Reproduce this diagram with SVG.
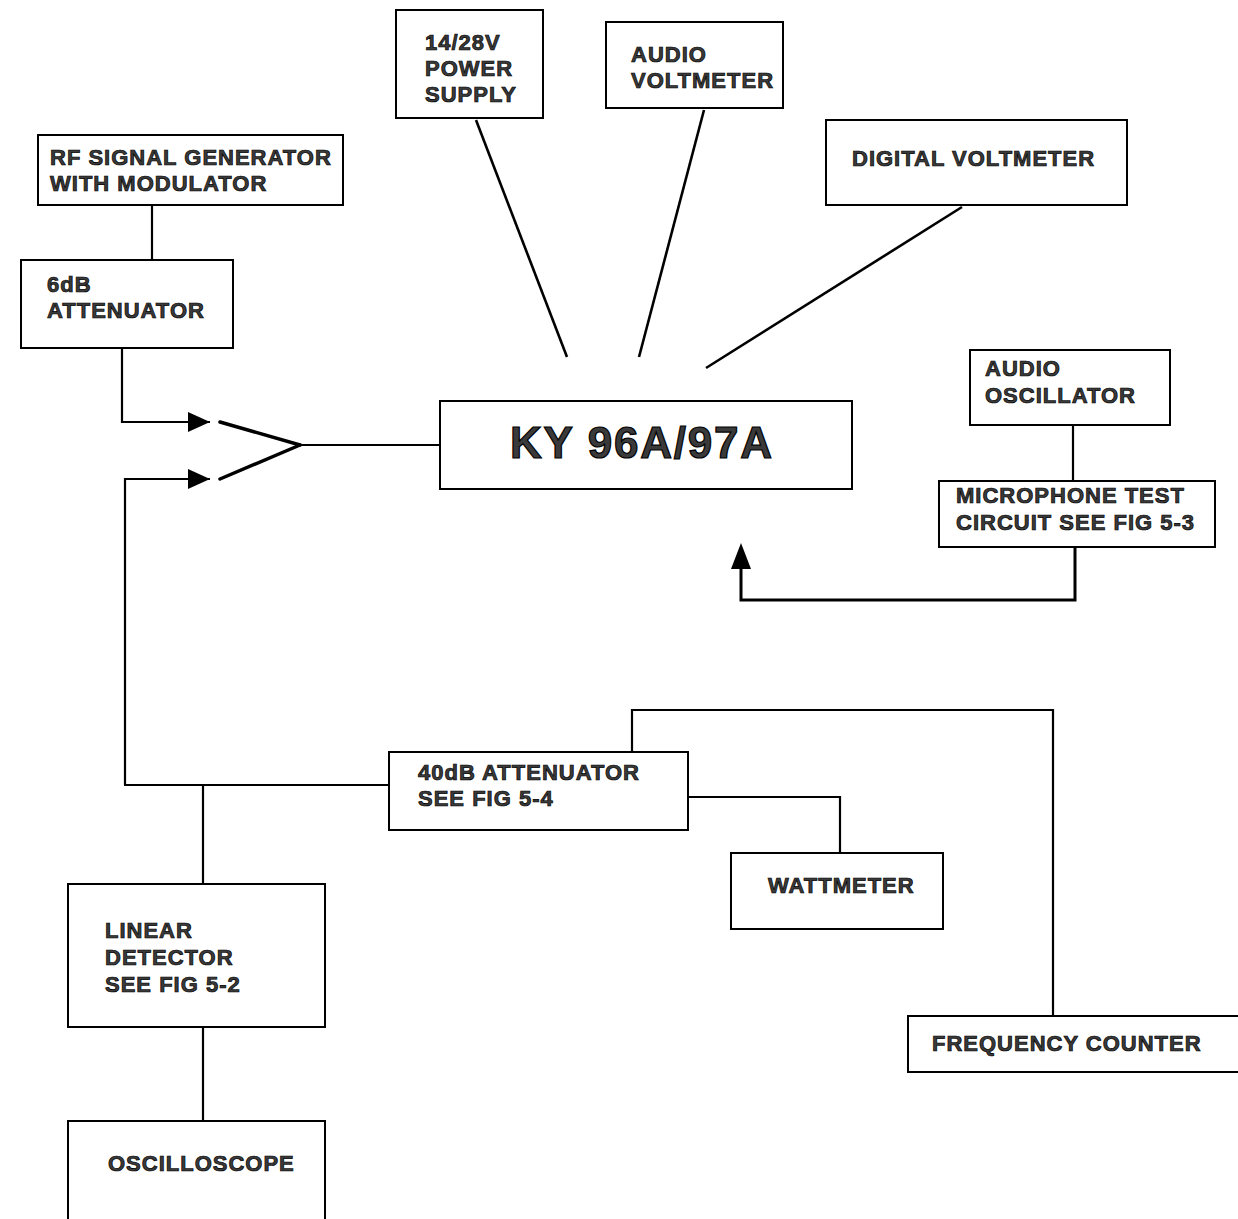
<svg xmlns="http://www.w3.org/2000/svg" width="1238" height="1219" viewBox="0 0 1238 1219">
<style>
.box{fill:#fff;stroke:#000;stroke-width:2}
.t{font-family:"Liberation Sans",Arial,sans-serif;font-weight:bold;font-size:22px;letter-spacing:1px;fill:#3a3a3a;stroke:#000;stroke-width:0.7}
.big{font-size:44px;letter-spacing:0;stroke-width:1.2}
.c{fill:none;stroke:#000;stroke-width:2.2}
.sw{fill:none;stroke:#000;stroke-width:3.5;stroke-linecap:round}
</style>
<defs>
<marker id="ah" markerWidth="24" markerHeight="20" refX="22" refY="10" orient="auto" markerUnits="userSpaceOnUse">
<path d="M0,0 L22,10 L0,20 Z" fill="#000"/>
</marker>
</defs>
<rect width="1238" height="1219" fill="#fff"/>
<g id="connectors">
<line class="c" x1="152" y1="205" x2="152" y2="260"/>
<path class="c" d="M122,348 V422 H210" marker-end="url(#ah)"/>
<path class="c" d="M125,785 V479 H210" marker-end="url(#ah)"/>
<line class="sw" x1="220" y1="422" x2="300" y2="445"/>
<line class="sw" x1="220" y1="479" x2="300" y2="445"/>
<line class="c" x1="300" y1="445" x2="440" y2="445"/>
<line class="c" x1="476" y1="120" x2="567" y2="357" style="stroke-width:2.6"/>
<line class="c" x1="704" y1="110" x2="639" y2="357" style="stroke-width:2.6"/>
<line class="c" x1="962" y1="207" x2="706" y2="368" style="stroke-width:2.6"/>
<line class="c" x1="1073" y1="425" x2="1073" y2="481"/>
<path class="c" d="M1075,547 V600 H741 V568" style="stroke-width:3"/>
<path d="M731,569 L741,543 L751,569 Z" fill="#000"/>
<line class="c" x1="124" y1="785" x2="389" y2="785"/>
<line class="c" x1="203" y1="785" x2="203" y2="884"/>
<path class="c" d="M632,752 V710 H1053 V1016"/>
<path class="c" d="M688,797 H840 V853"/>
<line class="c" x1="203" y1="1027" x2="203" y2="1121"/>
</g>
<g id="rf-gen"><rect class="box" x="38" y="135" width="305" height="70"/>
<text class="t" x="50" y="165">RF SIGNAL GENERATOR</text><text class="t" x="50" y="191">WITH MODULATOR</text></g>
<g id="att6"><rect class="box" x="21" y="260" width="212" height="88"/>
<text class="t" x="47" y="292">6dB</text><text class="t" x="47" y="318">ATTENUATOR</text></g>
<g id="power"><rect class="box" x="396" y="10" width="147" height="108"/>
<text class="t" x="425" y="50">14/28V</text><text class="t" x="425" y="76">POWER</text><text class="t" x="425" y="102">SUPPLY</text></g>
<g id="audio-vm"><rect class="box" x="606" y="22" width="177" height="86"/>
<text class="t" x="631" y="62">AUDIO</text><text class="t" x="631" y="88">VOLTMETER</text></g>
<g id="dvm"><rect class="box" x="826" y="120" width="301" height="85"/>
<text class="t" x="852" y="166">DIGITAL VOLTMETER</text></g>
<g id="ky"><rect class="box" x="440" y="401" width="412" height="88"/>
<text class="t big" x="641" y="458" text-anchor="middle" textLength="262" lengthAdjust="spacing">KY 96A/97A</text></g>
<g id="audio-osc"><rect class="box" x="970" y="350" width="200" height="75"/>
<text class="t" x="985" y="376">AUDIO</text><text class="t" x="985" y="403">OSCILLATOR</text></g>
<g id="mic"><rect class="box" x="939" y="481" width="276" height="66"/>
<text class="t" x="956" y="503">MICROPHONE TEST</text><text class="t" x="956" y="530">CIRCUIT SEE FIG 5-3</text></g>
<g id="att40"><rect class="box" x="389" y="752" width="299" height="78"/>
<text class="t" x="418" y="780">40dB ATTENUATOR</text><text class="t" x="418" y="806">SEE FIG 5-4</text></g>
<g id="watt"><rect class="box" x="731" y="853" width="212" height="76"/>
<text class="t" x="768" y="893">WATTMETER</text></g>
<g id="lin-det"><rect class="box" x="68" y="884" width="257" height="143"/>
<text class="t" x="105" y="938">LINEAR</text><text class="t" x="105" y="965">DETECTOR</text><text class="t" x="105" y="992">SEE FIG 5-2</text></g>
<g id="scope"><rect class="box" x="68" y="1121" width="257" height="110"/>
<text class="t" x="108" y="1171">OSCILLOSCOPE</text></g>
<g id="freq"><rect class="box" x="908" y="1016" width="340" height="56"/>
<text class="t" x="932" y="1051">FREQUENCY COUNTER</text></g>
</svg>
